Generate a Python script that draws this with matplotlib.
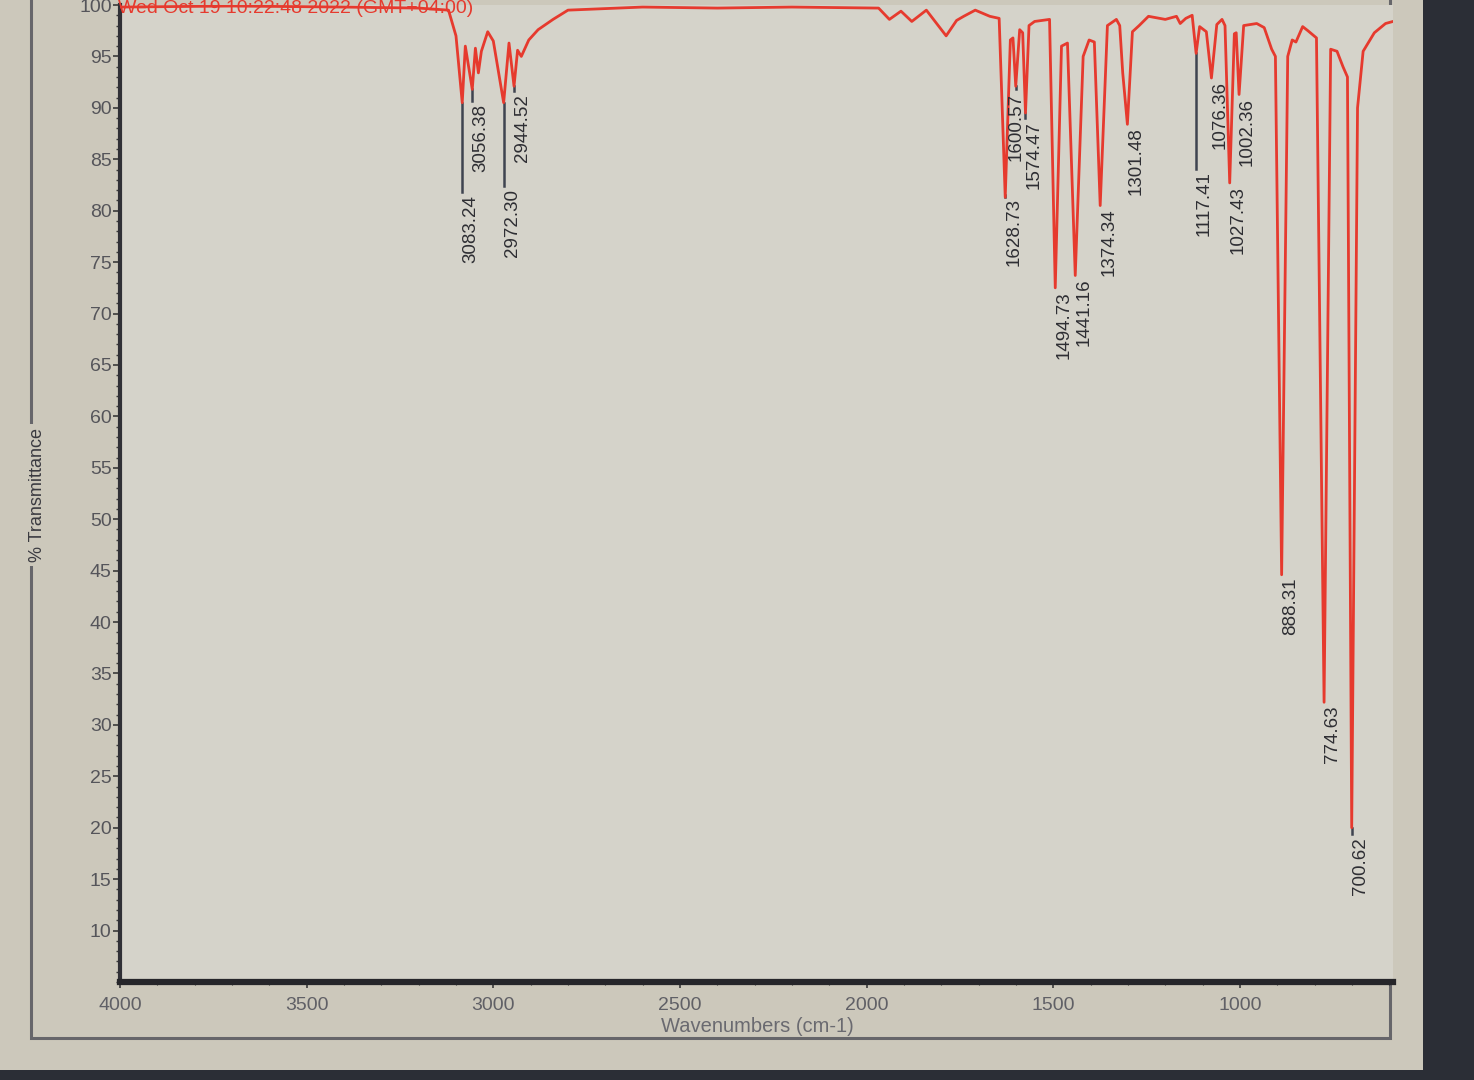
import matplotlib
matplotlib.use("Agg")
import matplotlib.pyplot as plt
from matplotlib.patches import Rectangle
from matplotlib.ticker import MultipleLocator

plt.rcParams['font.family'] = ['Liberation Sans', 'DejaVu Sans']
NARROW = ['Liberation Sans Narrow', 'Liberation Sans', 'DejaVu Sans']

# ---- data ----
wavenumbers = [4000, 3700, 3400, 3200, 3120, 3100, 3083.24, 3075, 3056.38, 3048, 3040, 3032,
               3015, 3000, 2972.30, 2958, 2944.52, 2935, 2925, 2905, 2880, 2840, 2800, 2600,
               2400, 2200, 1968, 1939, 1908, 1879, 1840, 1787, 1759, 1740, 1709, 1670, 1645,
               1628.73, 1615, 1608, 1600.57, 1590, 1582, 1574.47, 1565, 1550, 1510, 1494.73,
               1478, 1462, 1441.16, 1420, 1404, 1390, 1374.34, 1355, 1331, 1322, 1314, 1301.48,
               1288, 1270, 1245, 1200, 1170, 1160, 1145, 1128, 1117.41, 1108, 1090, 1076.36,
               1062, 1048, 1040, 1027.43, 1015, 1010, 1002.36, 990, 955, 935, 915, 905, 888.31,
               872, 860, 850, 832, 818, 795, 774.63, 757, 740, 724, 712, 700.62, 685, 670, 640,
               610, 590]
transmittance = [99.8, 99.9, 99.8, 99.7, 99.5, 97.0, 90.5, 96.0, 91.8, 95.8, 93.4, 95.5,
                 97.4, 96.5, 90.5, 96.3, 92.1, 95.6, 95.0, 96.6, 97.6, 98.6, 99.5, 99.8,
                 99.7, 99.8, 99.7, 98.6, 99.4, 98.4, 99.5, 97.0, 98.5, 98.9, 99.5, 98.9, 98.7,
                 81.3, 96.6, 96.8, 92.1, 97.6, 97.3, 89.5, 98.0, 98.4, 98.6, 72.5,
                 96.0, 96.3, 73.7, 95.0, 96.6, 96.4, 80.5, 98.0, 98.6, 98.0, 93.4, 88.4,
                 97.4, 98.0, 98.9, 98.6, 98.9, 98.2, 98.7, 99.0, 95.3, 97.9, 97.4, 92.9,
                 98.1, 98.6, 98.0, 82.7, 97.2, 97.3, 91.3, 98.0, 98.2, 97.8, 95.7, 95.0, 44.6,
                 95.0, 96.6, 96.4, 97.9, 97.5, 96.8, 32.2, 95.7, 95.5, 94.0, 93.0, 20.0, 90.0,
                 95.5, 97.3, 98.2, 98.4]

peak_labels = ["3083.24", "3056.38", "2972.30", "2944.52", "1628.73", "1600.57", "1574.47",
               "1494.73", "1441.16", "1374.34", "1301.48", "1117.41", "1076.36", "1027.43",
               "1002.36", "888.31", "774.63", "700.62"]
peak_wn = [3083.24, 3056.38, 2972.30, 2944.52, 1628.73, 1600.57, 1574.47, 1494.73, 1441.16,
           1374.34, 1301.48, 1117.41, 1076.36, 1027.43, 1002.36, 888.31, 774.63, 700.62]
peak_T = [90.5, 91.8, 90.5, 92.1, 81.3, 92.1, 89.5, 72.5, 73.7, 80.5, 88.4, 95.3, 92.9, 82.7,
          91.3, 44.6, 32.2, 20.0]

x_ticks = [4000, 3500, 3000, 2500, 2000, 1500, 1000]
y_ticks = [10, 15, 20, 25, 30, 35, 40, 45, 50, 55, 60, 65, 70, 75, 80, 85, 90, 95, 100]

title_text = "Wed Oct 19 10:22:48 2022 (GMT+04:00)"
x_label = "Wavenumbers (cm-1)"
y_label = "% Transmittance"

# ---- layout (label line ends in % T, and label alignment) ----
label_end_T = [81.8, 90.7, 82.4, 91.6, 81.5, 91.8, 89.0, 72.5, 73.7, 80.5, 88.4, 84.1, 92.9,
               82.7, 91.3, 44.6, 32.2, 19.4]
label_ha = ['left', 'left', 'left', 'left', 'left', 'center', 'left', 'left', 'left', 'left',
            'left', 'left', 'left', 'left', 'left', 'left', 'left', 'left']

W, H = 1474, 1080
fig = plt.figure(figsize=(W / 100, H / 100), dpi=100, facecolor='#2b2e36')

def fx(px):
    return px / W

def fy(py):
    return 1 - py / H

# background layer (screen + window frame)
bg = fig.add_axes([0, 0, 1, 1], zorder=-10)
bg.set_xlim(0, W)
bg.set_ylim(H, 0)
bg.axis('off')
bg.add_patch(Rectangle((0, 0), 1423, 1070, facecolor='#ccc8bb', edgecolor='none'))
bg.add_patch(Rectangle((31, -10), 1390 - 31, 1038 + 10, facecolor='none',
                       edgecolor='#66666a', lw=2.2))

left, right, bottom, top = 120, 1393, 982, 5
ax = fig.add_axes([fx(left), fy(bottom), fx(right) - fx(left), fy(top) - fy(bottom)], zorder=1)
ax.set_facecolor('#d5d3ca')

ax.plot(wavenumbers, transmittance, color='#e63a2e', lw=2.0, zorder=3)

for wn, pt, lt, lab, ha in zip(peak_wn, peak_T, label_end_T, peak_labels, label_ha):
    ax.plot([wn, wn], [pt, lt], color='#3f4450', lw=1.8, zorder=2)
    ax.text(wn, lt - 0.3, lab, rotation=90, ha=ha, va='top', fontsize=13.5,
            family=NARROW, color='#2e2e33', zorder=4)

ax.set_xlim(4000, 590)
ax.set_ylim(5, 100)
ax.set_xticks(x_ticks)
ax.set_xticklabels([str(t) for t in x_ticks], family=NARROW)
ax.set_yticks(y_ticks)
ax.set_yticklabels([str(t) for t in y_ticks], family=NARROW)
ax.yaxis.set_minor_locator(MultipleLocator(1))
ax.xaxis.set_minor_locator(MultipleLocator(100))
ax.tick_params(axis='y', which='major', length=5, width=1.2, colors='#3a3a3a',
               labelsize=14, labelcolor='#55555a', pad=1)
ax.tick_params(axis='y', which='minor', length=3, width=1.0, colors='#3a3a3a')
ax.tick_params(axis='x', which='major', length=4, width=1.2, colors='#3a3a3a',
               labelsize=14, labelcolor='#606066', pad=7)
ax.tick_params(axis='x', which='minor', length=2, width=0.8, colors='#3a3a3a')

ax.spines['top'].set_visible(False)
ax.spines['right'].set_visible(False)
ax.spines['bottom'].set_linewidth(4.5)
ax.spines['bottom'].set_color('#26262a')
ax.spines['left'].set_linewidth(3)
ax.spines['left'].set_color('#303036')

fig.text(fx(757), fy(1027), x_label, ha='center', va='center', fontsize=14.5,
         family=NARROW, color='#6a6a70')
fig.text(fx(38), fy(495), y_label, ha='center', va='center', rotation=90, fontsize=13,
         family=NARROW, color='#3a3a40', zorder=5,
         bbox=dict(facecolor='#ccc8bb', edgecolor='none', pad=3))
fig.text(fx(118), fy(0), title_text, ha='left', va='top', fontsize=14, color='#e63a2e',
         zorder=6)

fig.savefig("out.png", dpi=100, facecolor=fig.get_facecolor())
